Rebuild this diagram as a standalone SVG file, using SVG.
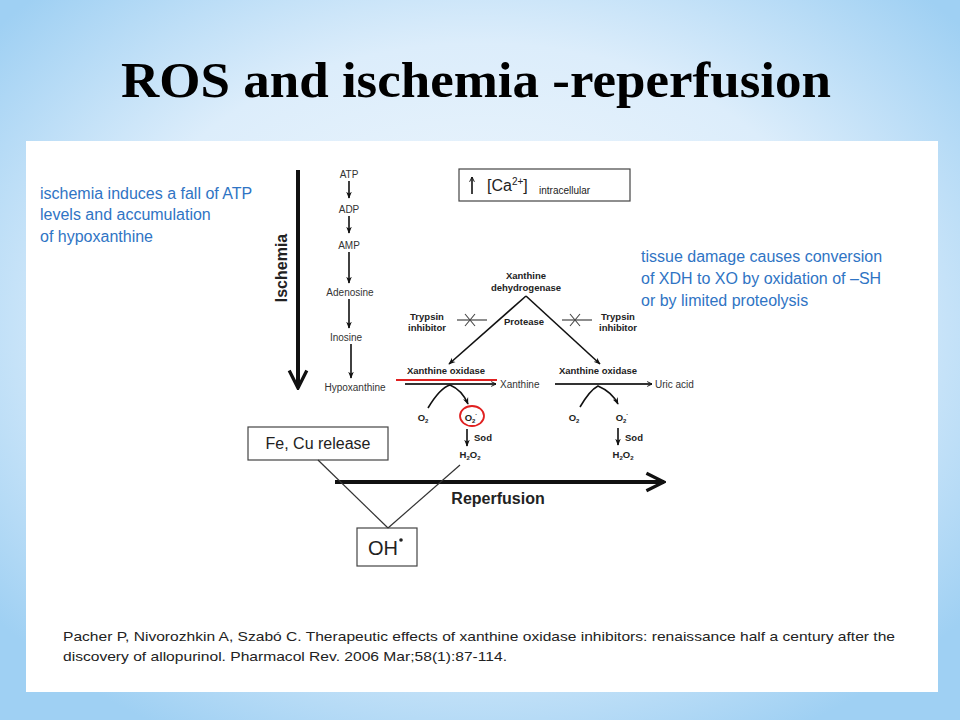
<svg xmlns="http://www.w3.org/2000/svg" width="960" height="720" viewBox="0 0 960 720">
<defs>
<radialGradient id="bg" cx="50%" cy="45%" r="65%">
<stop offset="0" stop-color="#f2f8fd"/>
<stop offset="0.6" stop-color="#dcedfb"/>
<stop offset="1" stop-color="#9fd0f3"/>
</radialGradient>
<marker id="ah" viewBox="0 0 10 10" refX="9" refY="5" markerWidth="6" markerHeight="6" orient="auto" markerUnits="userSpaceOnUse">
<path d="M1,1 L9,5 L1,9" fill="none" stroke="#111" stroke-width="1.6"/>
</marker>
<marker id="ahs" viewBox="0 0 10 10" refX="9" refY="5" markerWidth="7" markerHeight="7" orient="auto" markerUnits="userSpaceOnUse">
<path d="M0,1 L10,5 L0,9 L3,5 Z" fill="#111"/>
</marker>
<marker id="big" viewBox="0 0 20 20" refX="18" refY="10" markerWidth="22" markerHeight="22" orient="auto" markerUnits="userSpaceOnUse">
<path d="M2,2 L18,10 L2,18" fill="none" stroke="#111" stroke-width="3"/>
</marker>
</defs>
<style>
.blue{font-family:"Liberation Sans",Arial,sans-serif;font-size:16px;fill:#2f74c4}
.sm{font-family:"Liberation Sans",Arial,sans-serif;font-size:10px;fill:#333}
.b{font-family:"Liberation Sans",Arial,sans-serif;font-size:9.5px;font-weight:bold;fill:#222}
.box{fill:#fff;stroke:#444;stroke-width:1.2}
.ln{stroke:#111;stroke-width:1.6;fill:none}
.lab{font-family:"Liberation Sans",Arial,sans-serif;fill:#222}
</style>
<rect width="960" height="720" fill="url(#bg)"/>
<text x="476" y="97" text-anchor="middle" font-family="Liberation Serif,serif" font-weight="bold" font-size="50" fill="#000" textLength="710" lengthAdjust="spacingAndGlyphs">ROS and ischemia -reperfusion</text>
<rect x="26" y="141" width="912" height="551" fill="#fff"/>

<g id="note-left">
<text class="blue" x="40" y="199">ischemia induces a fall of ATP</text>
<text class="blue" x="40" y="220">levels and accumulation</text>
<text class="blue" x="40" y="242">of hypoxanthine</text>
</g>
<g id="note-right">
<text class="blue" x="641" y="262">tissue damage causes conversion</text>
<text class="blue" x="641" y="284">of XDH to XO  by oxidation of –SH</text>
<text class="blue" x="641" y="306">or by limited proteolysis</text>
</g>

<g id="ischemia">
<line x1="298" y1="170" x2="298" y2="388" stroke="#111" stroke-width="4" marker-end="url(#big)"/>
<text class="lab" x="0" y="0" font-size="16" font-weight="bold" text-anchor="middle" transform="translate(287,268) rotate(-90)">Ischemia</text>
</g>

<g id="chain" class="sm">
<text class="sm" x="349" y="178" text-anchor="middle">ATP</text>
<text class="sm" x="349" y="213" text-anchor="middle">ADP</text>
<text class="sm" x="349" y="249" text-anchor="middle">AMP</text>
<text class="sm" x="350" y="296" text-anchor="middle">Adenosine</text>
<text class="sm" x="346" y="341" text-anchor="middle">Inosine</text>
<text class="sm" x="355" y="391" text-anchor="middle">Hypoxanthine</text>
</g>

<g id="ca-box">
<rect class="box" x="459" y="169" width="171" height="32"/>
<line x1="472" y1="194" x2="472" y2="177" stroke="#111" stroke-width="1.6" marker-end="url(#ah)"/>
<text class="lab" x="487" y="191" font-size="16">[Ca<tspan font-size="10" dy="-6">2+</tspan><tspan dy="6">]</tspan></text>
<text class="lab" x="539" y="194" font-size="10">intracellular</text>
</g>

<g id="xdh">
<text class="b" x="526" y="279" text-anchor="middle">Xanthine</text>
<text class="b" x="526" y="291" text-anchor="middle">dehydrogenase</text>
<text class="b" x="427" y="320" text-anchor="middle">Trypsin</text>
<text class="b" x="427" y="331" text-anchor="middle">inhibitor</text>
<text class="b" x="524" y="325" text-anchor="middle">Protease</text>
<text class="b" x="618" y="320" text-anchor="middle">Trypsin</text>
<text class="b" x="618" y="331" text-anchor="middle">inhibitor</text>
</g>

<g id="xo-left">
<text class="b" x="446" y="374" text-anchor="middle">Xanthine oxidase</text>
<line x1="396" y1="380" x2="497" y2="380" stroke="#e02020" stroke-width="2"/>
<text class="sm" x="500" y="388">Xanthine</text>
<text class="b" x="423" y="421" text-anchor="middle">O<tspan font-size="6" dy="2">2</tspan></text>
<text class="b" x="471" y="421" text-anchor="middle">O<tspan font-size="6" dy="2">2</tspan><tspan font-size="6" dy="-7">·</tspan></text>
<ellipse cx="472" cy="416" rx="12" ry="10" fill="none" stroke="#e02020" stroke-width="1.8"/>
<text class="b" x="474" y="441">Sod</text>
<text class="b" x="470" y="458" text-anchor="middle">H<tspan font-size="6" dy="2">2</tspan><tspan dy="-2">O</tspan><tspan font-size="6" dy="2">2</tspan></text>
</g>

<g id="xo-right">
<text class="b" x="598" y="374" text-anchor="middle">Xanthine oxidase</text>
<text class="sm" x="655" y="388">Uric acid</text>
<text class="b" x="574" y="421" text-anchor="middle">O<tspan font-size="6" dy="2">2</tspan></text>
<text class="b" x="622" y="421" text-anchor="middle">O<tspan font-size="6" dy="2">2</tspan><tspan font-size="6" dy="-7">·</tspan></text>
<text class="b" x="625" y="441">Sod</text>
<text class="b" x="623" y="458" text-anchor="middle">H<tspan font-size="6" dy="2">2</tspan><tspan dy="-2">O</tspan><tspan font-size="6" dy="2">2</tspan></text>
</g>

<g id="fe-cu">
<rect class="box" x="248" y="427" width="140" height="33"/>
<text class="lab" x="318" y="449" font-size="16" text-anchor="middle">Fe, Cu release</text>
</g>

<g id="oh">
<rect class="box" x="357" y="528" width="60" height="38"/>
<text class="lab" x="383" y="555" font-size="20" text-anchor="middle">OH</text>
<circle cx="401" cy="540" r="1.8" fill="#222"/>
</g>

<g id="reperfusion">
<line x1="335" y1="482" x2="664" y2="482" stroke="#111" stroke-width="4" marker-end="url(#big)"/>
<text class="lab" x="498" y="504" font-size="16" font-weight="bold" text-anchor="middle">Reperfusion</text>
</g>

<g id="connectors">
<line class="ln" x1="349" y1="181" x2="349" y2="198" marker-end="url(#ahs)"/>
<line class="ln" x1="349" y1="216" x2="349" y2="233" marker-end="url(#ahs)"/>
<line class="ln" x1="349" y1="252" x2="349" y2="283" marker-end="url(#ahs)"/>
<line class="ln" x1="349" y1="299" x2="349" y2="328" marker-end="url(#ahs)"/>
<line class="ln" x1="351" y1="344" x2="351" y2="378" marker-end="url(#ahs)"/>
<line class="ln" x1="526" y1="296" x2="449" y2="364" marker-end="url(#ahs)"/>
<line class="ln" x1="526" y1="296" x2="600" y2="364" marker-end="url(#ahs)"/>
<line x1="457" y1="320" x2="487" y2="320" stroke="#444" stroke-width="1.2"/>
<path d="M465,314 L475,326 M465,326 L475,314" stroke="#444" stroke-width="1.1"/>
<line x1="562" y1="320" x2="592" y2="320" stroke="#444" stroke-width="1.2"/>
<path d="M570,314 L580,326 M570,326 L580,314" stroke="#444" stroke-width="1.1"/>
<line x1="405" y1="384" x2="496" y2="384" stroke="#333" stroke-width="1.8" marker-end="url(#ah)"/>
<line x1="555" y1="384" x2="652" y2="384" stroke="#333" stroke-width="1.8" marker-end="url(#ah)"/>
<path class="ln" d="M428,408 Q440,388 450,385 Q462,390 468,404" marker-end="url(#ahs)"/>
<path class="ln" d="M580,407 Q590,390 598,386 Q612,392 618,404" marker-end="url(#ahs)"/>
<line class="ln" x1="467" y1="429" x2="467" y2="446" marker-end="url(#ahs)"/>
<line class="ln" x1="618" y1="428" x2="618" y2="445" marker-end="url(#ahs)"/>
<line x1="318" y1="460" x2="388" y2="528" stroke="#333" stroke-width="1.2"/>
<line x1="460" y1="465" x2="388" y2="528" stroke="#333" stroke-width="1.2"/>
</g>

<g id="citation">
<text class="lab" x="63" y="641" font-size="13.5" fill="#222" textLength="832" lengthAdjust="spacingAndGlyphs">Pacher P, Nivorozhkin A, Szabó C. Therapeutic effects of xanthine oxidase inhibitors: renaissance half a century after the</text>
<text class="lab" x="63" y="661" font-size="13.5" fill="#222" textLength="444" lengthAdjust="spacingAndGlyphs">discovery of allopurinol. Pharmacol Rev. 2006 Mar;58(1):87-114.</text>
</g>
</svg>
